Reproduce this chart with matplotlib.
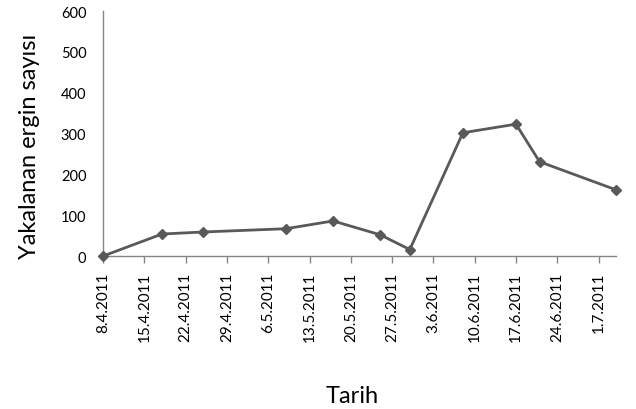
import datetime as dt
import matplotlib.pyplot as plt
import matplotlib.dates as mdates

plt.rcParams['font.family'] = ['Lato', 'DejaVu Sans']

# sampling dates and number of adults caught
dates = ["8.4.2011", "18.4.2011", "25.4.2011", "9.5.2011", "17.5.2011", "25.5.2011",
         "30.5.2011", "8.6.2011", "17.6.2011", "21.6.2011", "4.7.2011"]
counts = [0, 54, 59, 67, 86, 52, 16, 302, 323, 231, 162]

tick_start = "8.4.2011"
tick_step_days = 7
yticks = [0, 100, 200, 300, 400, 500, 600]


def parse(s):
    return dt.datetime.strptime(s, "%d.%m.%Y")


x = [parse(d) for d in dates]

fig = plt.figure(figsize=(6.36, 4.10), dpi=100)
ax = fig.add_axes([0.162, 0.373, 0.807, 0.5976])

ax.plot(x, counts, color="#595959", lw=2, marker="D", ms=5.5,
        mfc="#595959", mec="#595959", clip_on=False, zorder=3)

ax.set_xlim(x[0], x[-1])
ax.set_ylim(0, 600)
ax.set_yticks(yticks)

ax.set_xticks(mdates.drange(parse(tick_start), x[-1], dt.timedelta(days=tick_step_days)))
ax.xaxis.set_major_formatter(plt.FuncFormatter(
    lambda v, pos: "{0.day}.{0.month}.{0.year}".format(mdates.num2date(v))))
plt.setp(ax.get_xticklabels(), rotation=90)

for s in ["top", "right"]:
    ax.spines[s].set_visible(False)
for s in ["left", "bottom"]:
    ax.spines[s].set_color("#868686")
    ax.spines[s].set_linewidth(1)

ax.tick_params(axis="y", length=0, pad=12, labelsize=10.5, colors="black")
ax.tick_params(axis="x", length=5, width=1, color="#868686", pad=6, labelsize=11)

fig.text(0.047, 0.644, "Yakalanan ergin sayısı", rotation=90, fontsize=17,
         ha="center", va="center")
fig.text(0.553, 0.017, "Tarih", fontsize=17, ha="center", va="baseline")

fig.savefig("out.png", dpi=100)
